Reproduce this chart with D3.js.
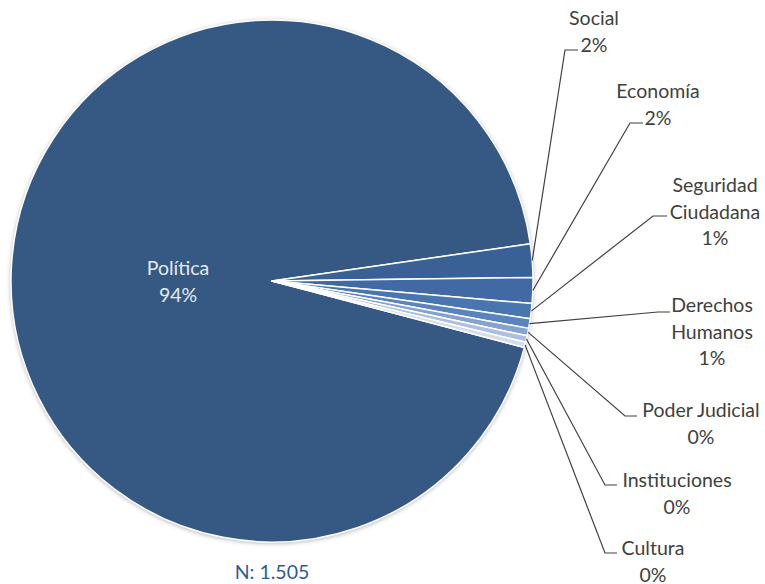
<!DOCTYPE html>
<html>
<head>
<meta charset="utf-8">
<script src="https://cdn.jsdelivr.net/npm/d3@7"></script>
<style>
  html, body { margin: 0; padding: 0; background: #fff; }
  svg { display: block; }
  text { font-family: Lato, "Open Sans", sans-serif; }
</style>
</head>
<body>
<svg id="chart" width="765" height="584"></svg>
<script>
// ---- data ----
const categories = ["Política", "Social", "Economía", "Seguridad Ciudadana", "Derechos Humanos", "Poder Judicial", "Instituciones", "Cultura"];
const counts = [1409, 31, 24, 14, 9, 7, 6, 5];
const labelLines = [["Política"], ["Social"], ["Economía"], ["Seguridad", "Ciudadana"], ["Derechos", "Humanos"], ["Poder Judicial"], ["Instituciones"], ["Cultura"]];
const totalLabel = "N: 1.505";

// ---- style / layout ----
const colors = ["#355983", "#3A6195", "#4169A3", "#4A76B0", "#5A84BE", "#86A3D0", "#AEC0E1", "#D3DDEF"];
const cx = 272, cy = 281, R = 261;
const fontSize = 19.5;
// outside label anchors: [textCenterX, firstLineCenterY, elbowX, elbowY, hookEndX]
const labelLayout = [
  null,
  [594, 18, 565, 50, 578],
  [658, 91, 630, 123, 643],
  [715, 185, 653, 216, 667],
  [712, 305, 658, 312, 670],
  [701, 410, 625, 416, 637],
  [677, 480, 605, 485, 617],
  [653, 548, 605, 553, 617]
];
const lineH = 26.5;

const svg = d3.select("#chart");
const defs = svg.append("defs");
const f = defs.append("filter").attr("id", "shadow").attr("x", "-10%").attr("y", "-10%").attr("width", "120%").attr("height", "120%");
f.append("feGaussianBlur").attr("in", "SourceAlpha").attr("stdDeviation", 2.5).attr("result", "b");
f.append("feOffset").attr("in", "b").attr("dx", 0).attr("dy", 1).attr("result", "o");
f.append("feComponentTransfer").attr("in", "o").attr("result", "s")
  .append("feFuncA").attr("type", "linear").attr("slope", 0.35);
const m = f.append("feMerge");
m.append("feMergeNode").attr("in", "s");
m.append("feMergeNode").attr("in", "SourceGraphic");

const total = d3.sum(counts);
const data = categories.map((c, i) => ({ name: c, value: counts[i], i }));

// Social begins ~8.2° above 3 o'clock; Política ends there
const polAngle = counts[0] / total * 2 * Math.PI;
const socialStart = (90 - 8.2) * Math.PI / 180;
const start = socialStart - polAngle;

const pie = d3.pie().value(d => d.value).sort(null)
  .startAngle(start).endAngle(start + 2 * Math.PI);
const arcs = pie(data);
const arc = d3.arc().innerRadius(0).outerRadius(R);

const g = svg.append("g").attr("transform", `translate(${cx},${cy})`);
g.append("circle").attr("r", R).attr("fill", colors[0]).attr("filter", "url(#shadow)");
g.selectAll("path.slice").data(arcs).join("path")
  .attr("class", "slice")
  .attr("d", arc)
  .attr("fill", d => colors[d.data.i])
  .attr("stroke", "#fff")
  .attr("stroke-width", 1.5)
  .attr("stroke-linejoin", "round");

const pct = d => Math.round(d.value / total * 100) + "%";

// inside label for Política
const big = arcs[0];
const bigText = svg.append("text")
  .attr("text-anchor", "middle")
  .attr("fill", "#E6E9EE")
  .attr("font-size", fontSize);
bigText.append("tspan").attr("x", 178).attr("y", 268 + 7).text(labelLines[0][0]);
bigText.append("tspan").attr("x", 178).attr("y", 268 + 7 + lineH).text(pct(big.data));

// outside labels with leader lines
arcs.slice(1).forEach(d => {
  const L = labelLayout[d.data.i];
  const mid = (d.startAngle + d.endAngle) / 2;
  const px = cx + Math.sin(mid) * R;
  const py = cy - Math.cos(mid) * R;
  svg.append("polyline")
    .attr("points", `${px},${py} ${L[2]},${L[3]} ${L[4]},${L[3]}`)
    .attr("fill", "none")
    .attr("stroke", "#404040")
    .attr("stroke-width", 1.2);
  const lines = labelLines[d.data.i].concat([pct(d.data)]);
  const t = svg.append("text").attr("text-anchor", "middle").attr("fill", "#404040").attr("font-size", fontSize);
  lines.forEach((s, k) => {
    t.append("tspan").attr("x", L[0]).attr("y", L[1] + 7 + k * lineH).text(s);
  });
});

svg.append("text")
  .attr("x", cx).attr("y", 572 + 7)
  .attr("text-anchor", "middle")
  .attr("fill", "#2E5B97")
  .attr("font-size", fontSize)
  .text(totalLabel);
</script>
</body>
</html>
